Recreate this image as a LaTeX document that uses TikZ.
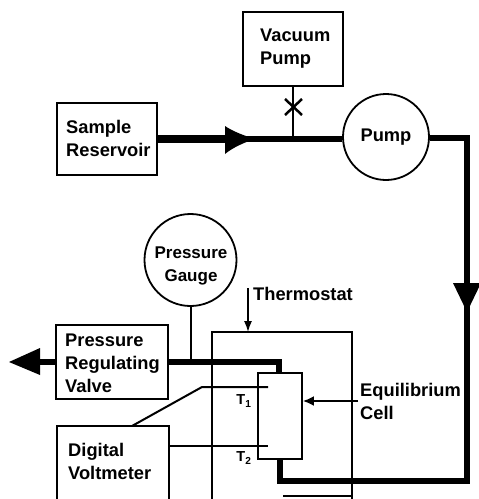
\documentclass[tikz,border=0pt]{standalone}
\usepackage{fontspec}
\setmainfont{Liberation Sans}
\usetikzlibrary{arrows.meta,calc}
\newcommand{\lbl}{\fontsize{18.3}{23}\selectfont\bfseries}
\newcommand{\lblsm}{\fontsize{17}{23}\selectfont\bfseries}
\newcommand{\lbltt}{\fontsize{14.5}{18}\selectfont\bfseries}
\tikzset{
  box/.style={draw,line width=1.8pt,inner sep=0pt,rectangle},
  round/.style={draw,line width=1.8pt,circle,inner sep=0pt,align=center},
  lbl/.style={inner sep=0pt,align=left,font=\lbl},
  pipe/.style={line width=6pt,line join=miter},
  wire/.style={line width=2pt},
  headfill/.style={fill=black,draw=none}
}
\begin{document}
\begin{tikzpicture}[x=1pt,y=-1pt]
\useasboundingbox (0,0) rectangle (479,499);
\clip (0,0) rectangle (479,499);
% boxes
\node[box,minimum width=100pt,minimum height=74pt] (vac) at (293,49) {};
\node[lbl,anchor=west] at (260,49) {Vacuum\\Pump};
\node[box,minimum width=100pt,minimum height=72pt] (res) at (107,139) {};
\node[lbl,anchor=west] at (66,138) {Sample\\Reservoir};
\node[round,minimum size=86pt,font=\lbl] (pump) at (386,137) {Pump};
\node[round,minimum size=92pt] (gauge) at (190.5,260) {};
\node[lbl,align=center,font=\lblsm] at (191,265.5) {Pressure\\Gauge};
\node[box,minimum width=112pt,minimum height=74pt] (valve) at (112,362) {};
\node[lbl,anchor=west] at (65,363.5) {Pressure\\Regulating\\Valve};
\node[box,minimum width=112pt,minimum height=110pt] (volt) at (113,481) {};
\node[lbl,anchor=west] at (68,461) {Digital\\Voltmeter};
% thermostat enclosure, open at the lower left
\coordinate (thTL) at (212,332);
\coordinate (thTR) at (352,332);
\draw[line width=1.8pt] (212,505) -- (thTL) -- (thTR) -- (352,505);
\draw[line width=1.8pt] (283,496) -- (352,496);
\node[box,minimum width=44pt,minimum height=86pt,fill=white] (cell) at (280,416) {};
% coordinates
\coordinate (c1) at (467,138);
\coordinate (c2) at (467,481);
\coordinate (c3) at (280,481);
\coordinate (junc) at (vac.south |- 0,139);
\coordinate (corner) at (279,362);
% thick pipes
\draw[line width=8pt] (res.east |- 0,139) -- (240,139);
\draw[line width=6pt] (240,139) -- (pump.west |- 0,139);
\draw[headfill] (225,126) .. controls (232,131) and (245,136) .. (255,139) .. controls (245,142) and (232,148) .. (225,154) -- cycle;
\draw[wire] (vac.south) -- (junc);
\draw[line width=2.5pt] (285,99) -- (302,115) (302,99) -- (285,115);
\draw[pipe] (pump.east |- 0,138) -- (c1) -- (c2) -- (c3) -- (cell.south -| c3);
\draw[headfill] (453,283) -- (481,283) -- (467,312) -- cycle;
\draw[pipe] (valve.east |- 0,362) -- (corner) -- (cell.north -| corner);
\draw[line width=6pt] (valve.west |- 0,362) -- (38,362);
\draw[headfill] (40,348) -- (40,375) -- (9,362) -- cycle;
\draw[wire] (gauge.south) -- (gauge.south |- 0,362);
% signal lines
\coordinate (t1a) at (132,426);
\coordinate (t1b) at (202,387);
\draw[wire] (t1a) -- (t1b) -- (268,387);
\draw[wire] (volt.east |- 0,446) -- (268,446);
\node[lbl,font=\lbltt] (t1) at (244,401) {T\textsubscript{1}};
\node[lbl,font=\lbltt] (t2) at (244,458) {T\textsubscript{2}};
\node[lbl,anchor=west] (eq) at (360,401.5) {Equilibrium\\Cell};
\coordinate (eqs) at (358,401);
\draw[wire,-{Latex[length=11pt,width=10pt]}] (eqs) -- (cell.east |- eqs);
\node[lbl,anchor=west] (thl) at (253,294) {Thermostat};
\coordinate (ths) at (248,288);
\draw[line width=1.4pt,-{Latex[length=11pt,width=8pt]}] (ths) -- (ths |- thTL);
\end{tikzpicture}
\end{document}
